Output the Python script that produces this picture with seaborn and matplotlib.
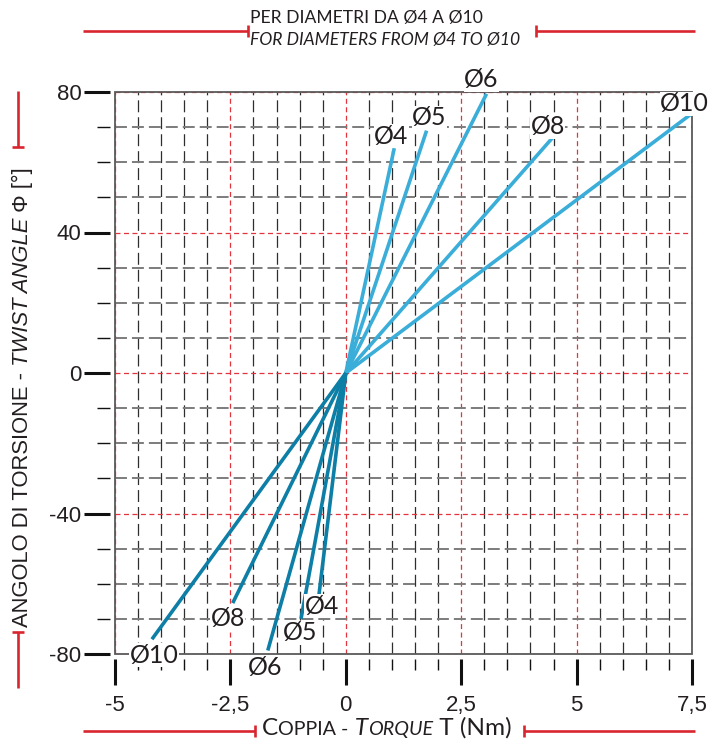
import matplotlib
matplotlib.use("Agg")
import numpy as np
import pandas as pd
import seaborn as sns
import matplotlib.pyplot as plt
from matplotlib.lines import Line2D
from matplotlib.patches import Rectangle
from matplotlib.ticker import MultipleLocator

# ---------------- data ----------------
diameters = ["Ø4", "Ø5", "Ø6", "Ø8", "Ø10"]
torque_pos = [1.05, 1.75, 3.05, 4.48, 7.49]
angle_pos = [64.0, 69.0, 79.5, 67.0, 73.8]
torque_neg = [-0.58, -0.97, -1.69, -2.45, -4.20]
angle_neg = [-63.0, -70.0, -79.0, -65.5, -75.8]
origin_torque, origin_angle = 0.0, 0.0

x_major = [-5, -2.5, 0, 2.5, 5, 7.5]
x_tick_labels = ["-5", "-2,5", "0", "2,5", "5", "7,5"]
y_major = [-80, -40, 0, 40, 80]
y_tick_labels = ["-80", "-40", "0", "40", "80"]

title_1 = "PER DIAMETRI DA Ø4 A Ø10"
title_2 = "FOR DIAMETERS FROM Ø4 TO Ø10"

# ---------------- style ----------------
W, H = 711, 740
POS = "#3AADD9"
NEG = "#0D7EA6"
RED = "#D9252E"
TXT = "#231F20"
LATO = ["Lato", "DejaVu Sans"]
ARIAL = ["Liberation Sans", "DejaVu Sans"]

sns.set_theme(style="white")
plt.rcParams["font.family"] = ARIAL
plt.rcParams["lines.scale_dashes"] = False

fig = plt.figure(figsize=(W / 100, H / 100), dpi=100)
ax = fig.add_axes([115 / W, 1 - 654 / H, 577 / W, 562 / H])

rows = []
for d, t, a in zip(diameters, torque_pos, angle_pos):
    rows.append(dict(series=d + "+", side="pos", torque=origin_torque, angle=origin_angle))
    rows.append(dict(series=d + "+", side="pos", torque=t, angle=a))
for d, t, a in zip(diameters, torque_neg, angle_neg):
    rows.append(dict(series=d + "-", side="neg", torque=origin_torque, angle=origin_angle))
    rows.append(dict(series=d + "-", side="neg", torque=t, angle=a))
df = pd.DataFrame(rows)

sns.lineplot(data=df, x="torque", y="angle", hue="side", units="series",
             estimator=None, sort=False, palette={"pos": POS, "neg": NEG},
             lw=2.6, legend=False, ax=ax, zorder=3)
for ln in ax.lines:
    ln.set_solid_capstyle("butt")

ax.set_xlim(-5, 7.5)
ax.set_ylim(-80, 80)
ax.set_xlabel("")
ax.set_ylabel("")

ax.set_xticks(x_major)
ax.set_xticklabels(x_tick_labels)
ax.xaxis.set_minor_locator(MultipleLocator(0.5))
ax.set_yticks(y_major)
ax.set_yticklabels(y_tick_labels)
ax.yaxis.set_minor_locator(MultipleLocator(10))

ax.tick_params(which="both", bottom=True, left=True, top=False, right=False,
               direction="out", color="#111111")
ax.tick_params(which="major", length=18.7, width=2.2, labelsize=16, labelcolor=TXT)
ax.tick_params(axis="y", which="major", pad=2)
ax.tick_params(axis="x", which="major", pad=7.5)
ax.tick_params(axis="y", which="minor", length=9.3, width=1.0)
ax.tick_params(axis="x", which="minor", length=8.0, width=1.0)

for s in ["top", "right"]:
    ax.spines[s].set_visible(False)
for s in ["left", "bottom"]:
    ax.spines[s].set_position(("outward", 3.6))
    ax.spines[s].set_visible(False)

ax.add_patch(Rectangle((0, 0), 1, 1, transform=ax.transAxes, fill=False,
                       ec="#5a5a5a", lw=1.3, zorder=2.5, clip_on=False))

ax.set_axisbelow(True)
ax.grid(which="minor", axis="x", color="#2e2e2e", lw=0.9, ls=(0, (8.6, 3.6)))
ax.grid(which="minor", axis="y", color="#7c7c7c", lw=1.4, ls=(0, (8.6, 3.6)))
ax.grid(which="major", axis="both", color="#E2343C", lw=0.9, ls=(0, (3.6, 2.5)))

# diameter labels
offs_pos = [(-3, 12), (3, 13), (-5, 14), (-5, 11), (-7, 10)]
offs_neg = [(3, -12), (-1, -14), (-3, -17), (-5, -15), (2, -16)]
for d, t, a, o in zip(diameters, torque_pos, angle_pos, offs_pos):
    ax.annotate(d, xy=(t, a), xytext=o, textcoords="offset pixels", ha="center",
                va="center", fontsize=18, family=LATO, color=TXT, zorder=6,
                annotation_clip=False,
                bbox=dict(fc="white", ec="none", pad=0.3))
for d, t, a, o in zip(diameters, torque_neg, angle_neg, offs_neg):
    ax.annotate(d, xy=(t, a), xytext=o, textcoords="offset pixels", ha="center",
                va="center", fontsize=18, family=LATO, color=TXT, zorder=6,
                annotation_clip=False,
                bbox=dict(fc="white", ec="none", pad=0.3))

# ---------------- titles ----------------
fig.text(250 / W, 1 - 18 / H, title_1, ha="left", va="center", fontsize=12.6,
         family=LATO, color=TXT)
fig.text(250 / W, 1 - 40 / H, title_2, ha="left", va="center", fontsize=12.6,
         family=LATO, style="italic", color=TXT)


def red_h(x0, x1, y, capx):
    fig.add_artist(Line2D([x0 / W, x1 / W], [1 - y / H, 1 - y / H],
                          transform=fig.transFigure, color=RED, lw=1.9,
                          solid_capstyle="butt"))
    fig.add_artist(Line2D([capx / W, capx / W], [1 - (y - 6) / H, 1 - (y + 6) / H],
                          transform=fig.transFigure, color=RED, lw=1.9,
                          solid_capstyle="butt"))


def red_v(x, y0, y1, capy):
    fig.add_artist(Line2D([x / W, x / W], [1 - y0 / H, 1 - y1 / H],
                          transform=fig.transFigure, color=RED, lw=1.9,
                          solid_capstyle="butt"))
    fig.add_artist(Line2D([(x - 6) / W, (x + 6) / W], [1 - capy / H, 1 - capy / H],
                          transform=fig.transFigure, color=RED, lw=1.9,
                          solid_capstyle="butt"))


red_h(83, 248, 31, 248)
red_h(536, 695, 31, 536)
red_h(83, 255, 731, 255)
red_h(524, 695, 731, 524)
red_v(18, 91, 147, 147)
red_v(18, 632, 688, 632)

# x label with small caps
xl_pieces = [("C", 17.6, "normal"), ("OPPIA -", 14.2, "normal"), (" T", 17.6, "italic"),
             ("ORQUE", 14.2, "italic"), (" T (Nm)", 17.6, "normal")]
base_y = H - 735
prev = None
for txt, fs, st in xl_pieces:
    if prev is None:
        prev = ax.annotate(txt, xy=(262, base_y), xycoords="figure pixels",
                           ha="left", va="baseline", fontsize=fs, style=st,
                           family=LATO, color=TXT, annotation_clip=False)
    else:
        prev = ax.annotate(txt, xy=(1, base_y), xycoords=(prev, "figure pixels"),
                           ha="left", va="baseline", fontsize=fs, style=st,
                           family=LATO, color=TXT, annotation_clip=False)

# y label (rotated)
yl_pieces = [("ANGOLO DI TORSIONE -", "normal"), (" TWIST ANGLE", "italic"),
             (" Φ [°]", "normal")]
base_x = 28
prev = None
for txt, st in yl_pieces:
    if prev is None:
        prev = ax.annotate(txt, xy=(base_x, H - 627), xycoords="figure pixels",
                           rotation=90, rotation_mode="anchor", ha="left",
                           va="baseline", fontsize=15.8, style=st, family=ARIAL,
                           color=TXT, annotation_clip=False)
    else:
        prev = ax.annotate(txt, xy=(base_x, 1), xycoords=("figure pixels", prev),
                           rotation=90, rotation_mode="anchor", ha="left",
                           va="baseline", fontsize=15.8, style=st, family=ARIAL,
                           color=TXT, annotation_clip=False)

fig.savefig("out.png", dpi=100)
